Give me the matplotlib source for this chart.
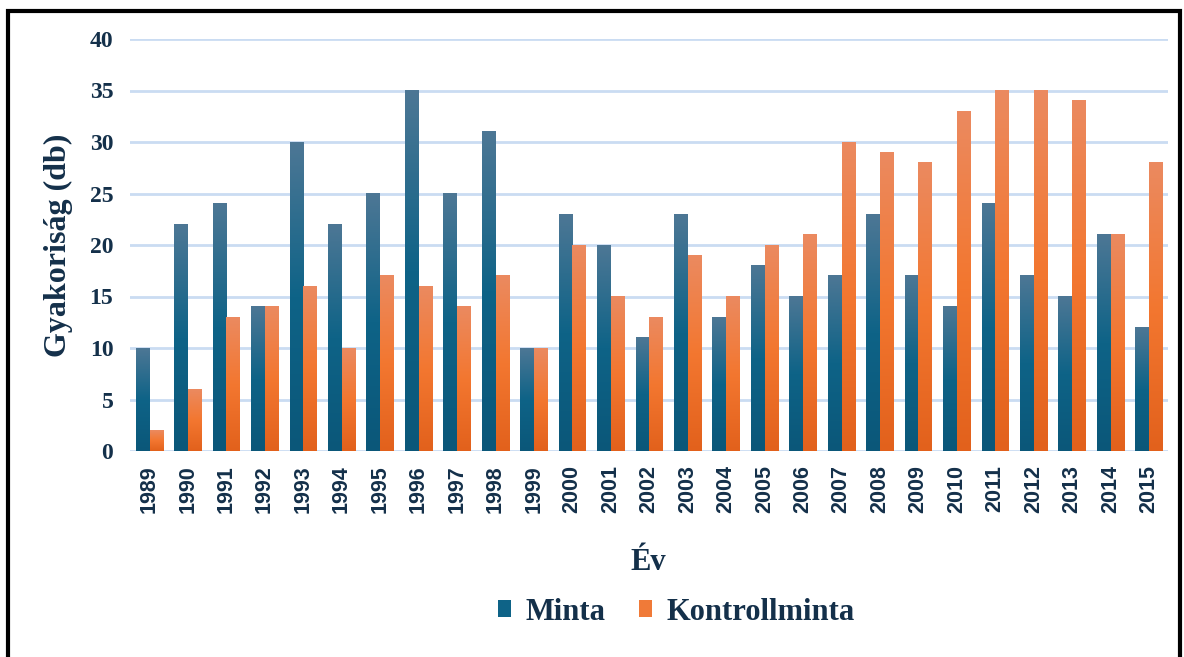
import numpy as np
import matplotlib
matplotlib.use("Agg")
import matplotlib.pyplot as plt
from matplotlib.colors import LinearSegmentedColormap
from matplotlib.patches import Rectangle, Patch

years = list(range(1989, 2016))
minta = [10, 22, 24, 14, 30, 22, 25, 35, 25, 31, 10, 23, 20, 11, 23, 13, 18, 15, 17, 23, 17, 14, 24, 17, 15, 21, 12]
kontroll = [2, 6, 13, 14, 16, 10, 17, 16, 14, 17, 10, 20, 15, 13, 19, 15, 20, 21, 30, 29, 28, 33, 35, 35, 34, 21, 28]

navy = "#14304a"
# gradient colors from bottom to top
blue_cm = LinearSegmentedColormap.from_list("b", ["#0b5779", "#0e6387", "#4d7795"])
orange_cm = LinearSegmentedColormap.from_list("o", ["#e2611c", "#f37730", "#eb8a60"])

fig = plt.figure(figsize=(11.84, 6.57), dpi=100)
ax = fig.add_axes([130 / 1184, 1 - 451 / 657, (1168 - 130) / 1184, (451 - 39) / 657])

x = np.arange(len(years))
w = 0.34
b1 = ax.bar(x - 0.18, minta, w, color="none", edgecolor="none", zorder=3)
b2 = ax.bar(x + 0.18, kontroll, w, color="none", edgecolor="none", zorder=3)

grad = np.linspace(0, 1, 256).reshape(-1, 1)
for bars, cm in ((b1, blue_cm), (b2, orange_cm)):
    for r in bars:
        x0, y0 = r.get_x(), r.get_y()
        ax.imshow(grad, cmap=cm, origin="lower", aspect="auto", zorder=3,
                  extent=(x0, x0 + r.get_width(), y0, y0 + r.get_height()))

ax.set_xlim(-0.5, len(years) - 0.5)
ax.set_ylim(0, 40)
ax.set_yticks(range(0, 41, 5))
ax.set_xticks(x)
ax.set_xticklabels([str(y) for y in years], rotation=90, fontfamily="Liberation Sans",
                   fontweight="bold", fontsize=15.5, color=navy)
for t in ax.get_yticklabels():
    t.set_fontfamily("Liberation Serif")
    t.set_fontweight("bold")
    t.set_fontsize(17)
    t.set_color(navy)
ax.tick_params(axis="both", length=0)
ax.tick_params(axis="y", pad=12)
ax.tick_params(axis="x", pad=10)
ax.grid(axis="y", color="#cadcf2", linewidth=2, zorder=0)
ax.set_axisbelow(True)
for s in ax.spines.values():
    s.set_visible(False)

ax.set_ylabel("Gyakoriság (db)", fontfamily="Liberation Serif", fontweight="bold",
              fontsize=23, color=navy, labelpad=12)
fig.text(648 / 1184, 1 - 563 / 657, "Év", ha="center", va="center", fontfamily="Liberation Serif",
         fontweight="bold", fontsize=22, color=navy)

handles = [Patch(facecolor="#0e6387"), Patch(facecolor="#f07a38")]
leg = fig.legend(handles, ["Minta", "Kontrollminta"], loc="center", bbox_to_anchor=(676 / 1184, 1 - 612 / 657),
                 ncol=2, frameon=False, handlelength=0.45, handleheight=0.45, handletextpad=0.45,
                 columnspacing=1.1, prop={"family": "Liberation Serif", "weight": "bold", "size": 22})
for t in leg.get_texts():
    t.set_color(navy)

# black frame around the chart
fig.patches.append(Rectangle((8 / 1184, -0.1), 1172 / 1184, 1.1 - 11 / 657, transform=fig.transFigure,
                             fill=False, edgecolor="black", linewidth=3))

fig.savefig("out.png", dpi=100)
